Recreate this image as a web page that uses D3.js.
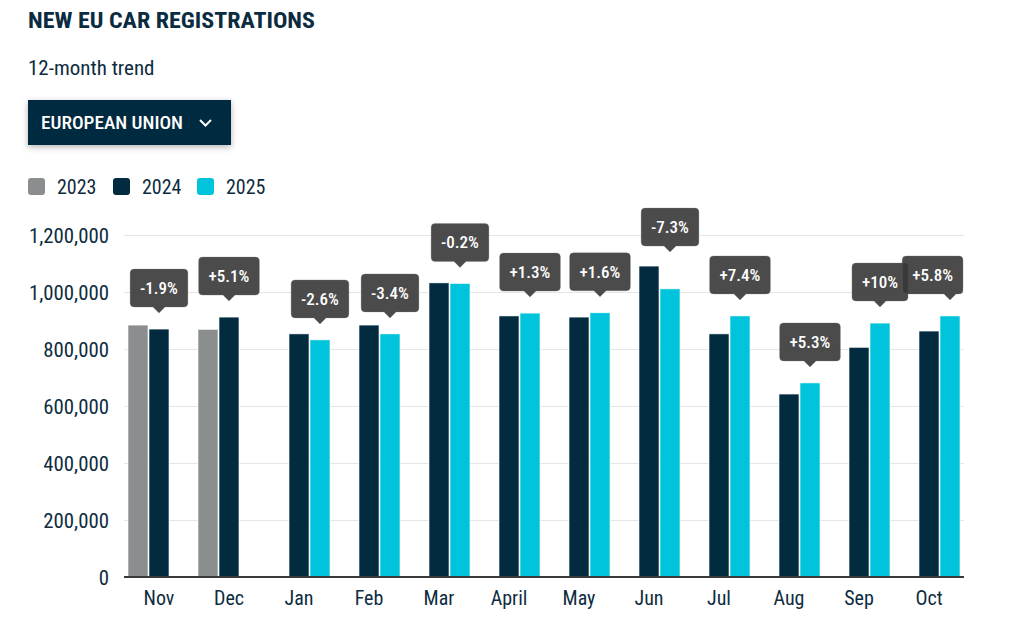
<!DOCTYPE html>
<html>
<head>
<meta charset="utf-8">
<script src="https://cdn.jsdelivr.net/npm/d3@7"></script>
<style>
  html, body { margin: 0; padding: 0; background: #fff; }
  svg { display: block; font-family: "Roboto Condensed", Roboto, "Liberation Sans Narrow", sans-serif; font-stretch: condensed; }
</style>
</head>
<body>
<svg id="chart" width="1029" height="621"></svg>
<script>
const months = ["Nov","Dec","Jan","Feb","Mar","April","May","Jun","Jul","Aug","Sep","Oct"];
const years = ["2023","2024","2025"];
const v2023 = [884000, 869000, null, null, null, null, null, null, null, null, null, null];
const v2024 = [870000, 912000, 853000, 884000, 1032000, 916000, 912000, 1091000, 853000, 642000, 806000, 863000];
const v2025 = [null, null, 832000, 853000, 1030000, 926000, 927000, 1011000, 916000, 681000, 891000, 916000];
const changes = ["-1.9%","+5.1%","-2.6%","-3.4%","-0.2%","+1.3%","+1.6%","-7.3%","+7.4%","+5.3%","+10%","+5.8%"];
const yTicks = [0, 200000, 400000, 600000, 800000, 1000000, 1200000];
const colors = {"2023": "#8b8e8f", "2024": "#022b40", "2025": "#00c3dc"};

const textCol = "#0e2c40";
const svg = d3.select("#chart");
const pLeft = 124, pRight = 964, pBottom = 577, pTop = 235;

const series = {"2023": v2023, "2024": v2024, "2025": v2025};

// Title
svg.append("text").attr("x", 28).attr("y", 28).attr("fill", "#0b2b3f")
  .attr("font-size", 22).attr("font-weight", 700)
  .attr("textLength", 287).attr("lengthAdjust", "spacingAndGlyphs")
  .text("NEW EU CAR REGISTRATIONS");
svg.append("text").attr("x", 28).attr("y", 75).attr("fill", textCol)
  .attr("font-size", 21).text("12-month trend");

// Dropdown
const defs = svg.append("defs");
const f = defs.append("filter").attr("id", "sh").attr("x", "-20%").attr("y", "-30%").attr("width", "140%").attr("height", "170%");
f.append("feDropShadow").attr("dx", 0).attr("dy", 2).attr("stdDeviation", 3).attr("flood-color", "#000").attr("flood-opacity", 0.3);
svg.append("rect").attr("x", 28).attr("y", 100).attr("width", 203).attr("height", 45)
  .attr("fill", "#022b40").attr("filter", "url(#sh)");
svg.append("text").attr("x", 41).attr("y", 129).attr("fill", "#fff")
  .attr("font-size", 18).attr("font-weight", 500)
  .attr("textLength", 142).attr("lengthAdjust", "spacingAndGlyphs")
  .text("EUROPEAN UNION");
svg.append("path").attr("d", "M200,120 L205.5,125.5 L211,120").attr("fill", "none")
  .attr("stroke", "#fff").attr("stroke-width", 2);

// Legend
const legX = [28, 113, 197];
years.forEach((yr, i) => {
  svg.append("rect").attr("x", legX[i]).attr("y", 178).attr("width", 17).attr("height", 17)
    .attr("rx", 3).attr("fill", colors[yr]);
  svg.append("text").attr("x", legX[i] + 29).attr("y", 193.5).attr("fill", textCol)
    .attr("font-size", 20).text(yr);
});

// Scales
const x0 = d3.scaleBand().domain(months).range([pLeft, pRight]).paddingInner(0.1).paddingOuter(0.05);
const x1 = d3.scaleBand().domain(years).range([0, x0.bandwidth()]);
const y = d3.scaleLinear().domain([0, 1200000]).range([pBottom, pTop]);

// Grid
svg.append("g").selectAll("line").data(yTicks.filter(d => d > 0)).join("line")
  .attr("x1", pLeft).attr("x2", pRight)
  .attr("y1", d => Math.round(y(d)) + 0.5).attr("y2", d => Math.round(y(d)) + 0.5)
  .attr("stroke", "#e6e6e6").attr("stroke-width", 1);

// Y axis labels
const yAxis = d3.axisLeft(y).tickValues(yTicks).tickSize(0).tickPadding(0)
  .tickFormat(d3.format(","));
const ya = svg.append("g").attr("transform", `translate(109,0)`).call(yAxis);
ya.select(".domain").remove();
ya.attr("font-family", null).attr("font-size", null);
ya.selectAll("text").attr("font-size", 20.8).attr("fill", textCol).attr("dy", "0.35em");

// Bars
const groups = svg.append("g").selectAll("g").data(months).join("g")
  .attr("transform", d => `translate(${x0(d)},0)`);
groups.selectAll("rect").data((m, i) => years.map(yr => ({yr, v: series[yr][i]})).filter(d => d.v != null))
  .join("rect")
  .attr("x", d => x1(d.yr) + 0.5)
  .attr("width", x1.bandwidth() - 1)
  .attr("y", d => y(d.v))
  .attr("height", d => y(0) - y(d.v))
  .attr("fill", d => colors[d.yr])
  .attr("stroke", "#fff").attr("stroke-width", 0.6);

// X axis
svg.append("line").attr("x1", pLeft).attr("x2", pRight).attr("y1", 577).attr("y2", 577)
  .attr("stroke", "#3a3a3a").attr("stroke-width", 2);
const xAxis = d3.axisBottom(x0).tickSize(0).tickPadding(0);
const xa = svg.append("g").attr("transform", `translate(0,${pBottom})`).call(xAxis);
xa.select(".domain").remove();
xa.attr("font-family", null).attr("font-size", null);
xa.selectAll("text").attr("font-size", 20).attr("fill", textCol)
  .attr("dy", null).attr("y", 28);

// Change labels
const lab = svg.append("g");
const h = 38;
months.forEach((m, i) => {
  const curYr = v2025[i] != null ? "2025" : "2024";
  const cur = series[curYr][i];
  const others = years.filter(yr => yr !== curYr).map(yr => series[yr][i]).filter(v => v != null);
  const maxOther = others.length ? d3.max(others) : 0;
  const cx = x0(m) + x1(curYr) + x1.bandwidth() / 2;
  let tipY = y(cur) - 16;
  // avoid covering a taller neighbouring bar
  if (y(maxOther) < tipY - 6) tipY = y(maxOther) - 14;
  const g = lab.append("g");
  const t = g.append("text").attr("fill", "#fff").attr("font-size", 17).attr("font-weight", 500)
    .attr("text-anchor", "middle").text(changes[i]);
  const w = t.node().getComputedTextLength() + 20;
  let bx = cx - w / 2;
  if (bx + w > pRight - 1) bx = pRight - 1 - w;
  const by = tipY - 6 - h;
  g.insert("path", "text")
    .attr("d", `M${bx + 4},${by} H${bx + w - 4} Q${bx + w},${by} ${bx + w},${by + 4} V${by + h - 4} Q${bx + w},${by + h} ${bx + w - 4},${by + h} H${cx + 6} L${cx},${tipY} L${cx - 6},${by + h} H${bx + 4} Q${bx},${by + h} ${bx},${by + h - 4} V${by + 4} Q${bx},${by} ${bx + 4},${by} Z`)
    .attr("fill", "rgba(55,55,55,0.9)").attr("stroke", "rgba(120,120,120,0.6)").attr("stroke-width", 0.5);
  t.attr("x", bx + w / 2).attr("y", by + h / 2 + 6);
});
</script>
</body>
</html>
